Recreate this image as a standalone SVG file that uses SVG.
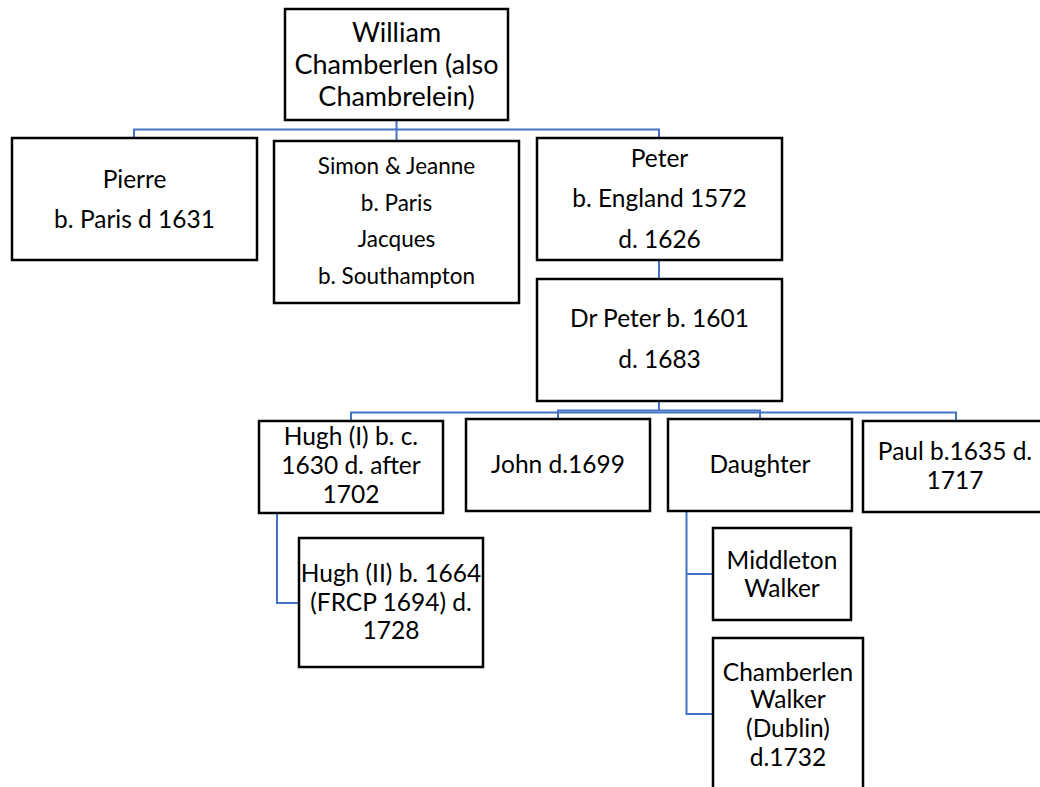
<svg xmlns="http://www.w3.org/2000/svg" width="1040" height="787" viewBox="0 0 1040 787">
<style>
.box{fill:#fff;stroke:#000;stroke-width:2.5}
.c{fill:none;stroke:#4472C4;stroke-width:2}
text{font-family:Lato,"Open Sans",sans-serif;font-size:24.5px;fill:#000;text-anchor:middle}
.s{font-size:22.5px}
.l{font-size:27px}
</style>
<rect width="1040" height="787" fill="#fff"/>
<g id="connectors">
<path class="c" d="M396.5 120V141M134 138V129.5H659V138"/>
<path class="c" d="M659 260V279"/>
<path class="c" d="M659 401V410.5M558 419V410.5H760V419"/>
<path class="c" d="M351 421V412.5H956V421"/>
<path class="c" d="M277 513V603H299"/>
<path class="c" d="M686.5 511V714H713M686.5 574H713"/>
</g>
<g id="william">
<rect class="box" x="285" y="9" width="223" height="111"/>
<text class="l" x="396.5" y="42">William</text>
<text class="l" x="396.5" y="74">Chamberlen (also</text>
<text class="l" x="396.5" y="106">Chambrelein)</text>
</g>
<g id="pierre">
<rect class="box" x="12" y="138" width="245" height="122"/>
<text x="134.5" y="188">Pierre</text>
<text x="134.5" y="228">b. Paris d 1631</text>
</g>
<g id="simon">
<rect class="box" x="274" y="141" width="245" height="162"/>
<text class="s" x="396.5" y="174">Simon &amp; Jeanne</text>
<text class="s" x="396.5" y="211">b. Paris</text>
<text class="s" x="396.5" y="247">Jacques</text>
<text class="s" x="396.5" y="284">b. Southampton</text>
</g>
<g id="peter">
<rect class="box" x="537" y="138" width="245" height="122"/>
<text x="659.5" y="167">Peter</text>
<text x="659.5" y="207">b. England 1572</text>
<text x="659.5" y="248">d. 1626</text>
</g>
<g id="drpeter">
<rect class="box" x="537" y="279" width="245" height="122"/>
<text x="659.5" y="327">Dr Peter b. 1601</text>
<text x="659.5" y="368">d. 1683</text>
</g>
<g id="hugh1">
<rect class="box" x="259" y="421" width="184" height="92"/>
<text x="351" y="445">Hugh (I) b. c.</text>
<text x="351" y="474">1630 d. after</text>
<text x="351" y="503">1702</text>
</g>
<g id="john">
<rect class="box" x="466" y="419" width="184" height="92"/>
<text x="558" y="473">John d.1699</text>
</g>
<g id="daughter">
<rect class="box" x="668" y="419" width="184" height="92"/>
<text x="760" y="473">Daughter</text>
</g>
<g id="paul">
<rect class="box" x="863" y="421" width="184" height="91"/>
<text x="955" y="460">Paul b.1635 d.</text>
<text x="955" y="489">1717</text>
</g>
<g id="hugh2">
<rect class="box" x="299" y="538" width="184" height="129"/>
<text x="391" y="582">Hugh (II) b. 1664</text>
<text x="391" y="611">(FRCP 1694) d.</text>
<text x="391" y="639">1728</text>
</g>
<g id="middleton">
<rect class="box" x="713" y="528" width="138" height="92"/>
<text x="782" y="569">Middleton</text>
<text x="782" y="597">Walker</text>
</g>
<g id="chamberlenwalker">
<rect class="box" x="713" y="638" width="150" height="165"/>
<text x="788" y="681">Chamberlen</text>
<text x="788" y="708">Walker</text>
<text x="788" y="737">(Dublin)</text>
<text x="788" y="766">d.1732</text>
</g>
</svg>
